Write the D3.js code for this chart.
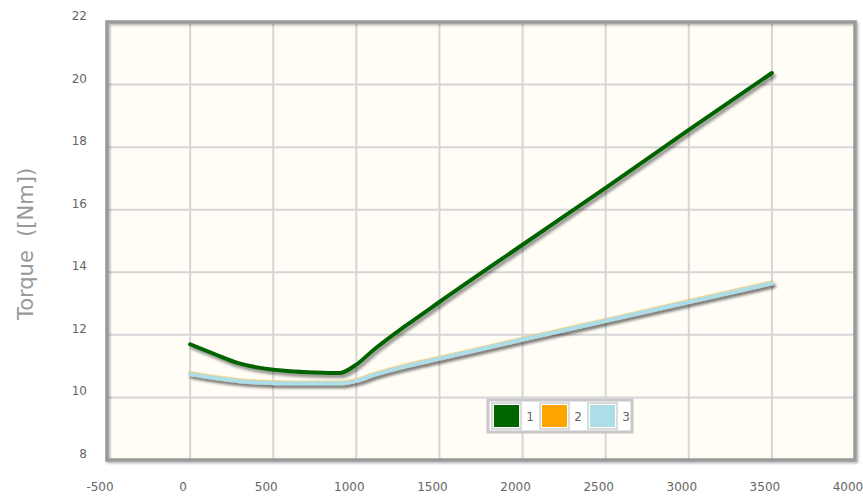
<!DOCTYPE html>
<html>
<head>
<meta charset="utf-8">
<script src="https://cdn.jsdelivr.net/npm/d3@7"></script>
<style>
  body { margin: 0; background: #fff; }
  svg { display: block; }
</style>
</head>
<body>
<div id="chart"></div>
<script>
// data
const rpm = [0, 150, 300, 450, 600, 750, 900, 1000, 1100, 1300, 1500, 2000, 2500, 3000, 3500];
const torque1 = [11.7, 11.38, 11.08, 10.92, 10.84, 10.8, 10.78, 11.05, 11.5, 12.3, 13.05, 14.88, 16.7, 18.55, 20.37];
const torque2 = [10.78, 10.65, 10.55, 10.5, 10.48, 10.48, 10.48, 10.56, 10.74, 11.03, 11.27, 11.88, 12.48, 13.08, 13.68];
const torque3 = [10.75, 10.62, 10.52, 10.47, 10.45, 10.45, 10.45, 10.53, 10.71, 11.0, 11.24, 11.85, 12.45, 13.05, 13.65];
const seriesNames = ['1', '2', '3'];
const seriesColors = ['#006400', '#FFA500', '#ADDDE6'];
const xTicks = [-500, 0, 500, 1000, 1500, 2000, 2500, 3000, 3500, 4000];
const yTicks = [8, 10, 12, 14, 16, 18, 20, 22];

const width = 863, height = 496;
const margin = {top: 22, right: 8, bottom: 36, left: 107};
const w = width - margin.left - margin.right;
const h = height - margin.top - margin.bottom;

const svg = d3.select('#chart').append('svg')
    .attr('width', width)
    .attr('height', height);

const defs = svg.append('defs');
const shadow = defs.append('filter').attr('id', 'shadow')
    .attr('x', '-5%').attr('y', '-5%').attr('width', '115%').attr('height', '130%');
shadow.append('feDropShadow')
    .attr('dx', 2).attr('dy', 3).attr('stdDeviation', 1.6)
    .attr('flood-color', '#000').attr('flood-opacity', 0.45);

const axShadow = defs.append('filter').attr('id', 'axShadow')
    .attr('x', '-5%').attr('y', '-5%').attr('width', '115%').attr('height', '115%');
axShadow.append('feDropShadow')
    .attr('dx', 1.5).attr('dy', 1.5).attr('stdDeviation', 1.2)
    .attr('flood-color', '#000').attr('flood-opacity', 0.3);

const g = svg.append('g')
    .attr('transform', `translate(${margin.left},${margin.top})`);

const x = d3.scaleLinear().domain([-500, 4000]).range([0, w]);
const y = d3.scaleLinear().domain([8, 22]).range([h, 0]);

// plot background
g.append('rect')
    .attr('width', w).attr('height', h)
    .attr('fill', '#fffdf5');

// grid
g.append('g').selectAll('line.vg')
    .data(xTicks.slice(1, -1))
    .enter().append('line')
    .attr('x1', d => x(d)).attr('x2', d => x(d))
    .attr('y1', 0).attr('y2', h)
    .attr('stroke', '#d6d6d6').attr('stroke-width', 2);

g.append('g').selectAll('line.hg')
    .data(yTicks.slice(1, -1))
    .enter().append('line')
    .attr('x1', 0).attr('x2', w)
    .attr('y1', d => y(d)).attr('y2', d => y(d))
    .attr('stroke', '#d6d6d6').attr('stroke-width', 2);

// frame
g.append('rect')
    .attr('width', w).attr('height', h)
    .attr('fill', 'none')
    .attr('stroke', '#9a9a9a').attr('stroke-width', 3.5)
    .attr('filter', 'url(#axShadow)');

// tick marks
g.append('g').selectAll('line')
    .data(yTicks)
    .enter().append('line')
    .attr('x1', -12).attr('x2', 0)
    .attr('y1', d => y(d)).attr('y2', d => y(d))
    .attr('stroke', '#9a9a9a').attr('stroke-width', 3)
    .attr('filter', 'url(#axShadow)');

g.append('g').selectAll('line')
    .data(xTicks)
    .enter().append('line')
    .attr('x1', d => x(d)).attr('x2', d => x(d))
    .attr('y1', h).attr('y2', h + 10)
    .attr('stroke', '#9a9a9a').attr('stroke-width', 3)
    .attr('filter', 'url(#axShadow)');

// tick labels
g.append('g').selectAll('text')
    .data(yTicks)
    .enter().append('text')
    .attr('x', -20).attr('y', d => y(d) - 2)
    .attr('text-anchor', 'end')
    .attr('font-family', 'DejaVu Sans, sans-serif')
    .attr('font-size', 12)
    .attr('fill', '#666')
    .text(d => d);

g.append('g').selectAll('text')
    .data(xTicks)
    .enter().append('text')
    .attr('x', d => x(d) - 7).attr('y', h + 31)
    .attr('text-anchor', 'middle')
    .attr('font-family', 'DejaVu Sans, sans-serif')
    .attr('font-size', 12)
    .attr('fill', '#666')
    .text(d => d);

// y axis title
svg.append('text')
    .attr('transform', 'translate(33,244) rotate(-90)')
    .attr('text-anchor', 'middle')
    .attr('font-family', 'DejaVu Sans, sans-serif')
    .attr('font-size', 21)
    .attr('fill', '#999')
    .style('white-space', 'pre')
    .text('Torque  ([Nm])');

// lines
const line = d3.line()
    .x(d => x(d[0]))
    .y(d => y(d[1]))
    .curve(d3.curveMonotoneX);

const series = [torque1, torque2, torque3];
const drawOrder = [1, 2, 0];
drawOrder.forEach(i => {
    g.append('path')
        .datum(rpm.map((r, k) => [r, series[i][k]]))
        .attr('d', line)
        .attr('fill', 'none')
        .attr('stroke', seriesColors[i])
        .attr('stroke-opacity', i === 1 ? 0.45 : 1)
        .attr('stroke-width', 4)
        .attr('stroke-linecap', 'round')
        .attr('filter', 'url(#shadow)');
});

// legend
const legend = svg.append('g').attr('transform', 'translate(488,400)');
legend.append('rect')
    .attr('width', 144).attr('height', 32)
    .attr('fill', '#fff')
    .attr('stroke', '#c8c8c8').attr('stroke-width', 3);

const item = legend.selectAll('g.item')
    .data(seriesNames)
    .enter().append('g')
    .attr('transform', (d, i) => `translate(${4 + i * 48},3)`);

item.append('rect')
    .attr('width', 29).attr('height', 26)
    .attr('fill', '#fff')
    .attr('stroke', '#d0d0d0').attr('stroke-width', 1.5);

item.append('rect')
    .attr('x', 2).attr('y', 2)
    .attr('width', 25).attr('height', 22)
    .attr('fill', (d, i) => seriesColors[i]);

item.append('text')
    .attr('x', 38).attr('y', 18)
    .attr('text-anchor', 'middle')
    .attr('font-family', 'DejaVu Sans, sans-serif')
    .attr('font-size', 12)
    .attr('fill', '#666')
    .text(d => d);
</script>
</body>
</html>
